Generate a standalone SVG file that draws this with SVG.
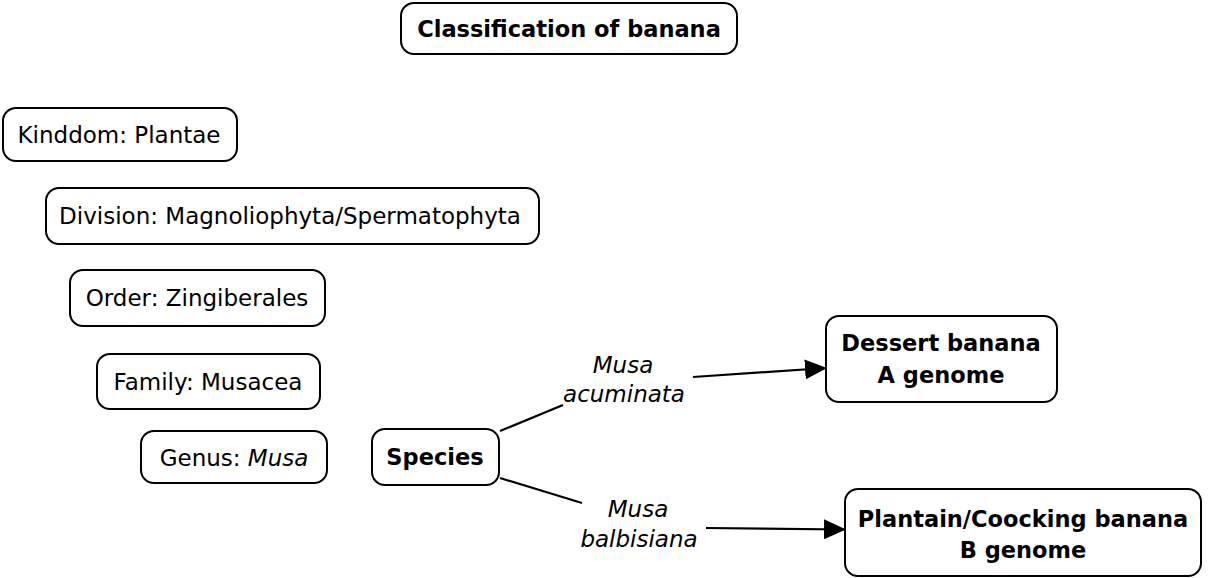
<svg xmlns="http://www.w3.org/2000/svg" width="1214" height="578" viewBox="0 0 1214 578">
<style>
.box{fill:#fff;stroke:#000;stroke-width:2}
.t{font-family:"DejaVu Sans",Verdana,sans-serif;font-size:23px;fill:#000}
.b{font-weight:bold;font-size:22.5px}
.i{font-style:italic}
.c{stroke:#000;stroke-width:2.2;fill:none}
</style>
<defs>
<marker id="ah" viewBox="0 0 22 20" refX="21" refY="10" markerWidth="22" markerHeight="20" markerUnits="userSpaceOnUse" orient="auto">
<path d="M0,0 L22,10 L0,20 Z" fill="#000"/>
</marker>
</defs>
<rect width="1214" height="578" fill="#fff"/>
<g id="connectors">
<line class="c" x1="500" y1="431" x2="563" y2="405"/>
<line class="c" x1="693" y1="377" x2="826" y2="368" marker-end="url(#ah)"/>
<line class="c" x1="500" y1="478" x2="582" y2="503"/>
<line class="c" x1="706" y1="528" x2="845" y2="529.5" marker-end="url(#ah)"/>
<text class="t i" x="623" y="373" text-anchor="middle">Musa</text>
<text class="t i" x="624" y="402" text-anchor="middle">acuminata</text>
<text class="t i" x="638" y="517" text-anchor="middle">Musa</text>
<text class="t i" x="639" y="547" text-anchor="middle">balbisiana</text>
</g>
<g id="title">
<rect class="box" x="401" y="3" width="336" height="51" rx="13"/>
<text class="t b" x="569" y="37" text-anchor="middle">Classification of banana</text>
</g>
<g id="kingdom">
<rect class="box" x="3" y="108" width="234" height="53" rx="13"/>
<text class="t" x="119" y="143" text-anchor="middle">Kinddom: Plantae</text>
</g>
<g id="division">
<rect class="box" x="46" y="188" width="493" height="56" rx="13"/>
<text class="t" x="290" y="224" text-anchor="middle">Division: Magnoliophyta/Spermatophyta</text>
</g>
<g id="order">
<rect class="box" x="70" y="270" width="255" height="56" rx="13"/>
<text class="t" x="197" y="306" text-anchor="middle">Order: Zingiberales</text>
</g>
<g id="family">
<rect class="box" x="97" y="354" width="223" height="55" rx="13"/>
<text class="t" x="208" y="390" text-anchor="middle">Family: Musacea</text>
</g>
<g id="genus">
<rect class="box" x="141" y="431" width="186" height="52" rx="13"/>
<text class="t" x="234" y="466" text-anchor="middle">Genus: <tspan class="i">Musa</tspan></text>
</g>
<g id="species">
<rect class="box" x="372" y="429" width="127" height="56" rx="13"/>
<text class="t b" x="435" y="465" text-anchor="middle">Species</text>
</g>
<g id="dessert">
<rect class="box" x="826" y="316" width="231" height="86" rx="13"/>
<text class="t b" x="941" y="351" text-anchor="middle">Dessert banana</text>
<text class="t b" x="941" y="383" text-anchor="middle">A genome</text>
</g>
<g id="plantain">
<rect class="box" x="845" y="489" width="356" height="87" rx="13"/>
<text class="t b" x="1023" y="527" text-anchor="middle">Plantain/Coocking banana</text>
<text class="t b" x="1023" y="558" text-anchor="middle">B genome</text>
</g>
</svg>
